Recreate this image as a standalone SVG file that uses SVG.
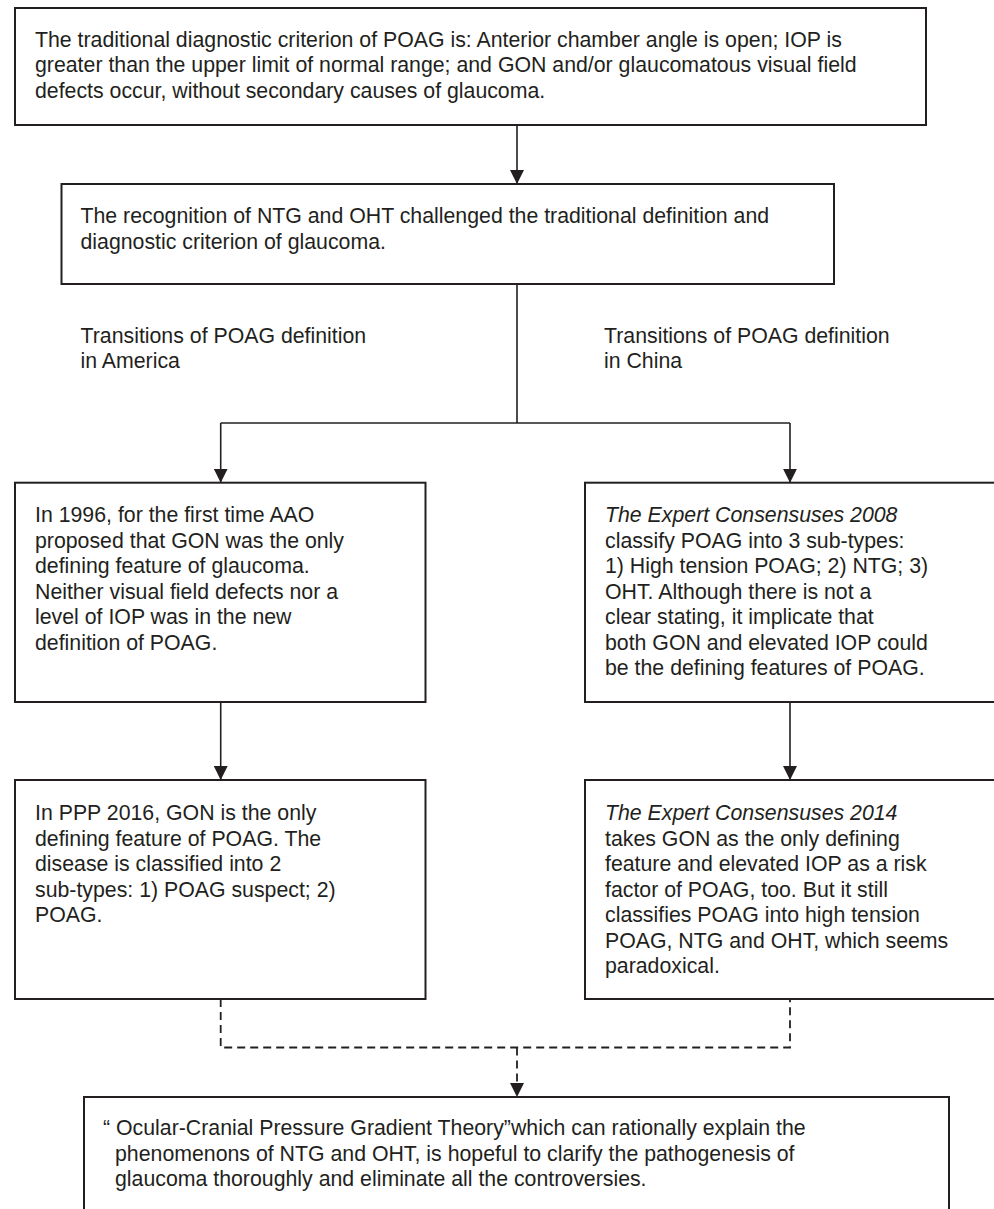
<svg xmlns="http://www.w3.org/2000/svg" width="994" height="1209" viewBox="0 0 994 1209">
<defs>
<style>
.box{fill:#fff;stroke:#231f20;stroke-width:2}
.t{font-family:"Liberation Sans",Arial,Helvetica,sans-serif;font-size:21.3px;fill:#231f20}
.i{font-style:italic}
.c{fill:none;stroke:#231f20;stroke-width:1.6}
.d{fill:none;stroke:#231f20;stroke-width:1.8;stroke-dasharray:8 5}
</style>
<marker id="ah" markerUnits="userSpaceOnUse" markerWidth="14" markerHeight="14" refX="14" refY="7" orient="auto">
<path d="M0,0 L14,7 L0,14 z" fill="#231f20"/>
</marker>
</defs>
<rect width="994" height="1209" fill="#fff"/>
<g id="connectors">
<path class="c" d="M517,125 V184" marker-end="url(#ah)"/>
<path class="c" d="M517,284 V423"/>
<path class="c" d="M220.7,423 H790"/>
<path class="c" d="M220.7,423 V482.7" marker-end="url(#ah)"/>
<path class="c" d="M790,423 V482.7" marker-end="url(#ah)"/>
<path class="c" d="M220.7,702 V780" marker-end="url(#ah)"/>
<path class="c" d="M790,702 V780" marker-end="url(#ah)"/>
<path class="d" d="M220.7,999 V1047.5 H790 V999"/>
<path class="d" d="M517,1047.5 V1097" marker-end="url(#ah)"/>
</g>
<g id="n-traditional">
<rect class="box" x="15" y="8" width="911" height="117"/>
<text class="t" x="35" y="46.5">The traditional diagnostic criterion of POAG is: Anterior chamber angle is open; IOP is</text>
<text class="t" x="35" y="72">greater than the upper limit of normal range; and GON and/or glaucomatous visual field</text>
<text class="t" x="35" y="97.5">defects occur, without secondary causes of glaucoma.</text>
</g>
<g id="n-recognition">
<rect class="box" x="61.5" y="184" width="772.5" height="100"/>
<text class="t" x="80.5" y="223">The recognition of NTG and OHT challenged the traditional definition and</text>
<text class="t" x="80.5" y="248.5">diagnostic criterion of glaucoma.</text>
</g>
<g id="label-america">
<text class="t" x="80.5" y="342.7">Transitions of POAG definition</text>
<text class="t" x="80.5" y="368.2">in America</text>
</g>
<g id="label-china">
<text class="t" x="604" y="342.7">Transitions of POAG definition</text>
<text class="t" x="604" y="368.2">in China</text>
</g>
<g id="n-aao1996">
<rect class="box" x="15" y="482.7" width="410.5" height="219.3"/>
<text class="t" x="35" y="522">In 1996, for the first time AAO</text>
<text class="t" x="35" y="547.5">proposed that GON was the only</text>
<text class="t" x="35" y="573">defining feature of glaucoma.</text>
<text class="t" x="35" y="598.5">Neither visual field defects nor a</text>
<text class="t" x="35" y="624">level of IOP was in the new</text>
<text class="t" x="35" y="649.5">definition of POAG.</text>
</g>
<g id="n-consensus2008">
<rect class="box" x="585" y="482.7" width="410" height="219.3"/>
<text class="t i" x="605" y="522">The Expert Consensuses 2008</text>
<text class="t" x="605" y="547.5">classify POAG into 3 sub-types:</text>
<text class="t" x="605" y="573">1) High tension POAG; 2) NTG; 3)</text>
<text class="t" x="605" y="598.5">OHT. Although there is not a</text>
<text class="t" x="605" y="624">clear stating, it implicate that</text>
<text class="t" x="605" y="649.5">both GON and elevated IOP could</text>
<text class="t" x="605" y="675">be the defining features of POAG.</text>
</g>
<g id="n-ppp2016">
<rect class="box" x="15" y="780" width="410.5" height="219"/>
<text class="t" x="35" y="820">In PPP 2016, GON is the only</text>
<text class="t" x="35" y="845.5">defining feature of POAG. The</text>
<text class="t" x="35" y="871">disease is classified into 2</text>
<text class="t" x="35" y="896.5">sub-types: 1) POAG suspect; 2)</text>
<text class="t" x="35" y="922">POAG.</text>
</g>
<g id="n-consensus2014">
<rect class="box" x="585" y="780" width="410" height="219"/>
<text class="t i" x="605" y="820">The Expert Consensuses 2014</text>
<text class="t" x="605" y="845.5">takes GON as the only defining</text>
<text class="t" x="605" y="871">feature and elevated IOP as a risk</text>
<text class="t" x="605" y="896.5">factor of POAG, too. But it still</text>
<text class="t" x="605" y="922">classifies POAG into high tension</text>
<text class="t" x="605" y="947.5">POAG, NTG and OHT, which seems</text>
<text class="t" x="605" y="973">paradoxical.</text>
</g>
<g id="n-theory">
<rect class="box" x="84" y="1097" width="865" height="140"/>
<text class="t" x="103" y="1135">“ Ocular-Cranial Pressure Gradient Theory”which can rationally explain the</text>
<text class="t" x="115" y="1160.5">phenomenons of NTG and OHT, is hopeful to clarify the pathogenesis of</text>
<text class="t" x="115" y="1186">glaucoma thoroughly and eliminate all the controversies.</text>
</g>
</svg>
